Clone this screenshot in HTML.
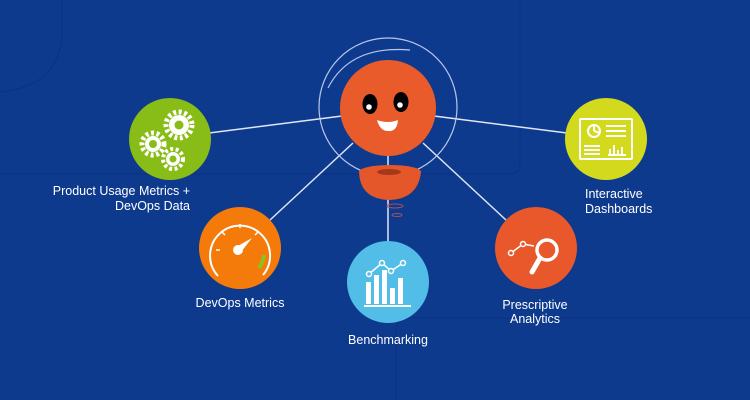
<!DOCTYPE html>
<html><head><meta charset="utf-8"><style>
html,body{margin:0;padding:0;width:750px;height:400px;overflow:hidden;background:#0e3a8e}
svg{display:block}
text{font-family:"Liberation Sans",sans-serif;font-size:12.5px;fill:#fff}
</style></head><body>
<svg width="750" height="400" viewBox="0 0 750 400">
<rect width="750" height="400" fill="#0e3a8e"/>
<g fill="none" stroke="#0b3384" stroke-width="1.2">
<path d="M0 92 Q62 86 62 30 V0"/>
<path d="M0 174 H510 Q520 174 520 164 V0"/>
<path d="M396 400 V330 Q396 318 410 318 H750"/>
</g>
<g stroke="#dfe6f5" stroke-width="1.5" fill="none">
<line x1="342" y1="116" x2="209" y2="133"/>
<line x1="434" y1="116" x2="567" y2="133"/>
<line x1="353" y1="143" x2="270" y2="220"/>
<line x1="423" y1="143" x2="506" y2="220"/>
<line x1="388" y1="155" x2="388" y2="242"/>
</g>
<circle cx="388" cy="107" r="69" fill="none" stroke="#b8c6e8" stroke-width="1.2"/>
<path d="M328 88 Q350 45 410 50" fill="none" stroke="#b8c6e8" stroke-width="1.2"/>
<circle cx="388" cy="108" r="48" fill="#ea5b2c"/>
<ellipse cx="370" cy="104" rx="7.5" ry="10" fill="#000"/>
<ellipse cx="401" cy="102" rx="7.5" ry="10" fill="#000"/>
<circle cx="369" cy="107" r="2.8" fill="#fff"/>
<circle cx="400" cy="105" r="2.8" fill="#fff"/>
<path d="M377 120 Q388 124 398 120 Q397 132 388 131 Q380 131 377 120Z" fill="#fff"/>
<path d="M359 172 Q360 199 389 200 Q418 199 421 172 Z" fill="#e4572a"/>
<ellipse cx="390" cy="172" rx="31" ry="7" fill="#e4572a"/>
<ellipse cx="389" cy="172" rx="12" ry="3" fill="#a3391a"/>
<ellipse cx="395" cy="206" rx="8" ry="2" fill="none" stroke="#a05060" stroke-width="1"/>
<ellipse cx="397" cy="215" rx="5" ry="1.5" fill="none" stroke="#a05060" stroke-width="1"/>
<circle cx="170" cy="139" r="41" fill="#88bc16"/>
<g fill="#fff">
<circle cx="153" cy="144" r="11" stroke="#fff" stroke-width="5" stroke-dasharray="3 2.5" fill="none"/>
<circle cx="153" cy="144" r="8"/><circle cx="153" cy="144" r="4" fill="#88bc16"/>
<circle cx="179" cy="125" r="13" stroke="#fff" stroke-width="5" stroke-dasharray="3 2.5" fill="none"/>
<circle cx="179" cy="125" r="10"/><circle cx="179" cy="125" r="4.5" fill="#88bc16"/>
<circle cx="173" cy="159" r="10" stroke="#fff" stroke-width="4" stroke-dasharray="3 2.5" fill="none"/>
<circle cx="173" cy="159" r="7"/><circle cx="173" cy="159" r="3.5" fill="#88bc16"/>
</g>
<circle cx="606" cy="139" r="41" fill="#d3da1e"/>
<g stroke="#fff" stroke-width="2" fill="none">
<rect x="580" y="119" width="52" height="40" rx="1"/>
<circle cx="594" cy="131" r="6"/>
<path d="M594 131 V125 M594 131 L600 133"/>
<path d="M606 126 H626 M606 131 H626 M606 136 H626"/>
<path d="M584 146 H600 M584 150 H600 M584 154 H600"/>
<path d="M610 155 V149 M614 155 V145 M618 155 V150 M622 155 V147 M608 155 H626"/>
</g>
<circle cx="240" cy="248" r="41" fill="#f47b0a"/>
<path d="M218 276 A30 30 0 1 1 263 275" fill="none" stroke="#fff" stroke-width="2"/>
<path d="M264 255 A27 27 0 0 1 259 268" fill="none" stroke="#8cc21a" stroke-width="4"/>
<g stroke="#fff" stroke-width="1.5">
<line x1="216" y1="250" x2="220" y2="250"/><line x1="222" y1="232" x2="225" y2="235"/>
<line x1="240" y1="224" x2="240" y2="228"/><line x1="258" y1="232" x2="255" y2="235"/>
</g>
<circle cx="238" cy="250" r="5" fill="#fff"/>
<path d="M236 247 L252 238 L241 252Z" fill="#fff"/>
<circle cx="388" cy="282" r="41" fill="#52bde6"/>
<g fill="#fff">
<rect x="366" y="282" width="5" height="22"/><rect x="374" y="275" width="5" height="29"/>
<rect x="382" y="270" width="5" height="34"/><rect x="390" y="288" width="5" height="16"/>
<rect x="398" y="278" width="5" height="26"/><rect x="364" y="305" width="47" height="2"/>
</g>
<polyline points="369,274 382,263 391,271 403,263" fill="none" stroke="#fff" stroke-width="1.5"/>
<g fill="#52bde6" stroke="#fff" stroke-width="1.5">
<circle cx="369" cy="274" r="2.5"/><circle cx="382" cy="263" r="2.5"/><circle cx="391" cy="271" r="2.5"/><circle cx="403" cy="263" r="2.5"/>
</g>
<circle cx="536" cy="248" r="41" fill="#e8582b"/>
<polyline points="511,253 523,244 534,246" fill="none" stroke="#fff" stroke-width="1.5"/>
<circle cx="511" cy="253" r="2.5" fill="#e8582b" stroke="#fff" stroke-width="1.5"/>
<circle cx="523" cy="244" r="2.5" fill="#e8582b" stroke="#fff" stroke-width="1.5"/>
<circle cx="547" cy="250" r="10" fill="none" stroke="#fff" stroke-width="3.5"/>
<line x1="540" y1="258" x2="532" y2="272" stroke="#fff" stroke-width="5" stroke-linecap="round"/>
<text x="190" y="195" text-anchor="end">Product Usage Metrics +</text>
<text x="190" y="210" text-anchor="end">DevOps Data</text>
<text x="240" y="307" text-anchor="middle">DevOps Metrics</text>
<text x="388" y="344" text-anchor="middle">Benchmarking</text>
<text x="535" y="309" text-anchor="middle">Prescriptive</text>
<text x="535" y="323" text-anchor="middle">Analytics</text>
<text x="585" y="198">Interactive</text>
<text x="585" y="213">Dashboards</text>
</svg>
</body></html>
